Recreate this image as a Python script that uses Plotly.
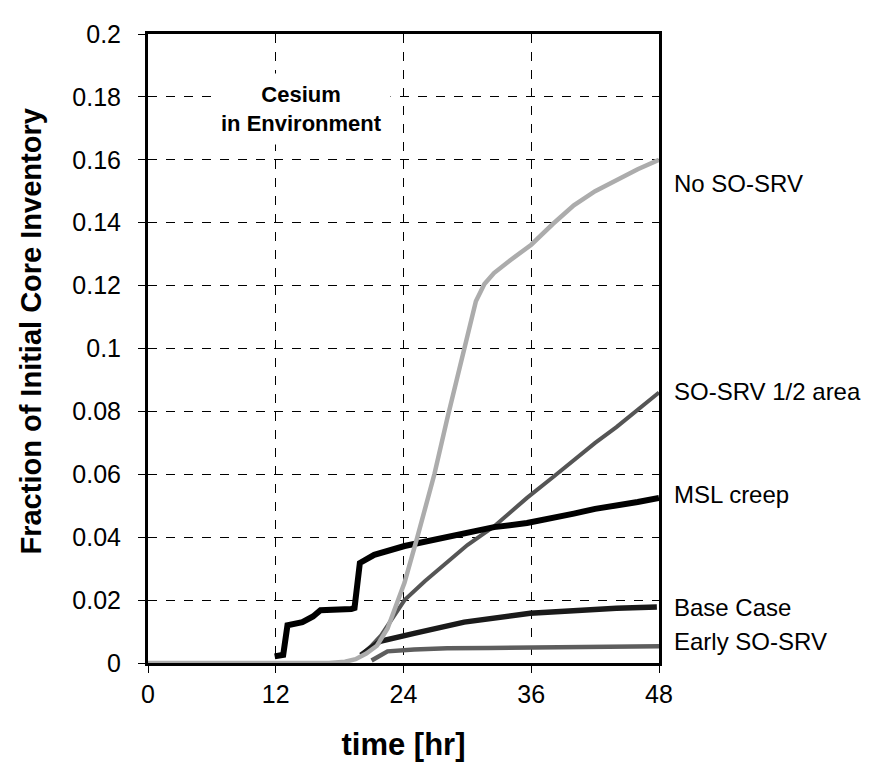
import plotly.graph_objects as go

# ---- data ----
x_ticks = [0, 12, 24, 36, 48]
x_tick_labels = ["0", "12", "24", "36", "48"]
y_ticks = [0, 0.02, 0.04, 0.06, 0.08, 0.1, 0.12, 0.14, 0.16, 0.18, 0.2]
y_tick_labels = ["0", "0.02", "0.04", "0.06", "0.08", "0.1", "0.12", "0.14", "0.16", "0.18", "0.2"]

no_sosrv_t = [0, 10, 17, 18.5, 19.5, 20.5, 21.5, 22.5, 24.1, 25.3, 26.9, 28.1, 29.0, 30.0, 30.8, 31.6, 32.5, 34, 36, 38, 40, 42, 44, 46, 48]
no_sosrv_v = [0, 0, 0, 0.0004, 0.0012, 0.003, 0.0055, 0.011, 0.0256, 0.040, 0.060, 0.0776, 0.090, 0.105, 0.115, 0.1205, 0.124, 0.128, 0.133, 0.1395, 0.1455, 0.150, 0.1535, 0.157, 0.160]

half_area_t = [20.0, 21.0, 21.9, 23.0, 24.1, 26.0, 28.1, 30.0, 32.5, 35.6, 38, 40, 42, 44, 46, 48]
half_area_v = [0.0025, 0.0055, 0.0088, 0.0145, 0.0200, 0.026, 0.032, 0.0375, 0.0434, 0.0525, 0.059, 0.0645, 0.070, 0.075, 0.0805, 0.086]

msl_t = [11.9, 12.7, 13.1, 14.5, 15.5, 16.2, 19.1, 19.4, 19.9, 21.25, 24.1, 28.1, 30.0, 32.5, 35.6, 38, 40, 42, 44, 46, 48]
msl_v = [0.0021, 0.0026, 0.012, 0.013, 0.0148, 0.0168, 0.0172, 0.0175, 0.0318, 0.0344, 0.0372, 0.040, 0.0415, 0.0432, 0.0445, 0.046, 0.0475, 0.049, 0.050, 0.0512, 0.0525]

base_t = [20.0, 20.8, 21.8, 25.0, 29.7, 35.9, 40, 44, 47.8]
base_v = [0.0025, 0.0045, 0.0069, 0.0094, 0.013, 0.0158, 0.0168, 0.0174, 0.0178]

early_t = [21.0, 21.9, 22.5, 25, 28.1, 32, 35.9, 40, 44, 48]
early_v = [0.0008, 0.0025, 0.0037, 0.0043, 0.0047, 0.0048, 0.0049, 0.0050, 0.0051, 0.0053]

series_names = ["No SO-SRV", "SO-SRV 1/2 area", "MSL creep", "Base Case", "Early SO-SRV"]
label_y = [0.1525, 0.0862, 0.0537, 0.0178, 0.0069]

FONT = "Liberation Sans, Arial, sans-serif"

fig = go.Figure()
fig.add_trace(go.Scatter(x=half_area_t, y=half_area_v, mode="lines",
                         line=dict(color="#555555", width=4), name=series_names[1]))
fig.add_trace(go.Scatter(x=early_t, y=early_v, mode="lines",
                         line=dict(color="#5e5e5e", width=4.5), name=series_names[4]))
fig.add_trace(go.Scatter(x=base_t, y=base_v, mode="lines",
                         line=dict(color="#1a1a1a", width=5.5), name=series_names[3]))
fig.add_trace(go.Scatter(x=msl_t, y=msl_v, mode="lines",
                         line=dict(color="#000000", width=6), name=series_names[2]))
fig.add_trace(go.Scatter(x=no_sosrv_t, y=no_sosrv_v, mode="lines",
                         line=dict(color="#acacac", width=4.5), name=series_names[0]))

for name, yv in zip(series_names, label_y):
    fig.add_annotation(x=48, y=yv, xref="x", yref="y", text=name, showarrow=False,
                       xanchor="left", yanchor="middle", xshift=13,
                       font=dict(family=FONT, size=24, color="black"))

fig.add_annotation(x=14.4, y=0.1762, xref="x", yref="y",
                   text="<b>Cesium</b><br><b>in Environment</b>", showarrow=False,
                   xanchor="center", yanchor="middle", align="center",
                   bgcolor="white", borderpad=8,
                   font=dict(family=FONT, size=22, color="black"))

# y-axis title (placed as rotated text, slightly above the plot centre as in the reference)
fig.add_annotation(x=0, y=0.527, xref="paper", yref="paper",
                   text="<b>Fraction of Initial Core Inventory</b>", showarrow=False,
                   textangle=-90, xanchor="center", yanchor="middle", xshift=-117,
                   font=dict(family=FONT, size=29, color="black"))

fig.update_layout(
    width=872, height=771,
    margin=dict(l=140, r=221, t=16, b=116),
    paper_bgcolor="white", plot_bgcolor="white",
    showlegend=False,
    font=dict(family=FONT, color="black"),
)
fig.update_xaxes(
    range=[0, 48], tickvals=x_ticks, ticktext=x_tick_labels,
    showgrid=True, gridcolor="black", gridwidth=1, griddash="dash",
    showline=True, linecolor="black", linewidth=3, mirror=True,
    ticks="outside", ticklen=7, tickcolor="black", tickwidth=1,
    ticklabelstandoff=0,
    tickfont=dict(size=25), zeroline=False,
    title=dict(text="<b>time [hr]</b>", font=dict(size=31), standoff=27),
)
fig.update_yaxes(
    range=[0, 0.2], tickvals=y_ticks, ticktext=y_tick_labels,
    showgrid=True, gridcolor="black", gridwidth=1, griddash="dash",
    showline=True, linecolor="black", linewidth=3, mirror=True,
    ticks="outside", ticklen=7, tickcolor="black", tickwidth=1,
    ticklabelstandoff=12,
    tickfont=dict(size=25), zeroline=False,
)

fig.write_html("out.html")
